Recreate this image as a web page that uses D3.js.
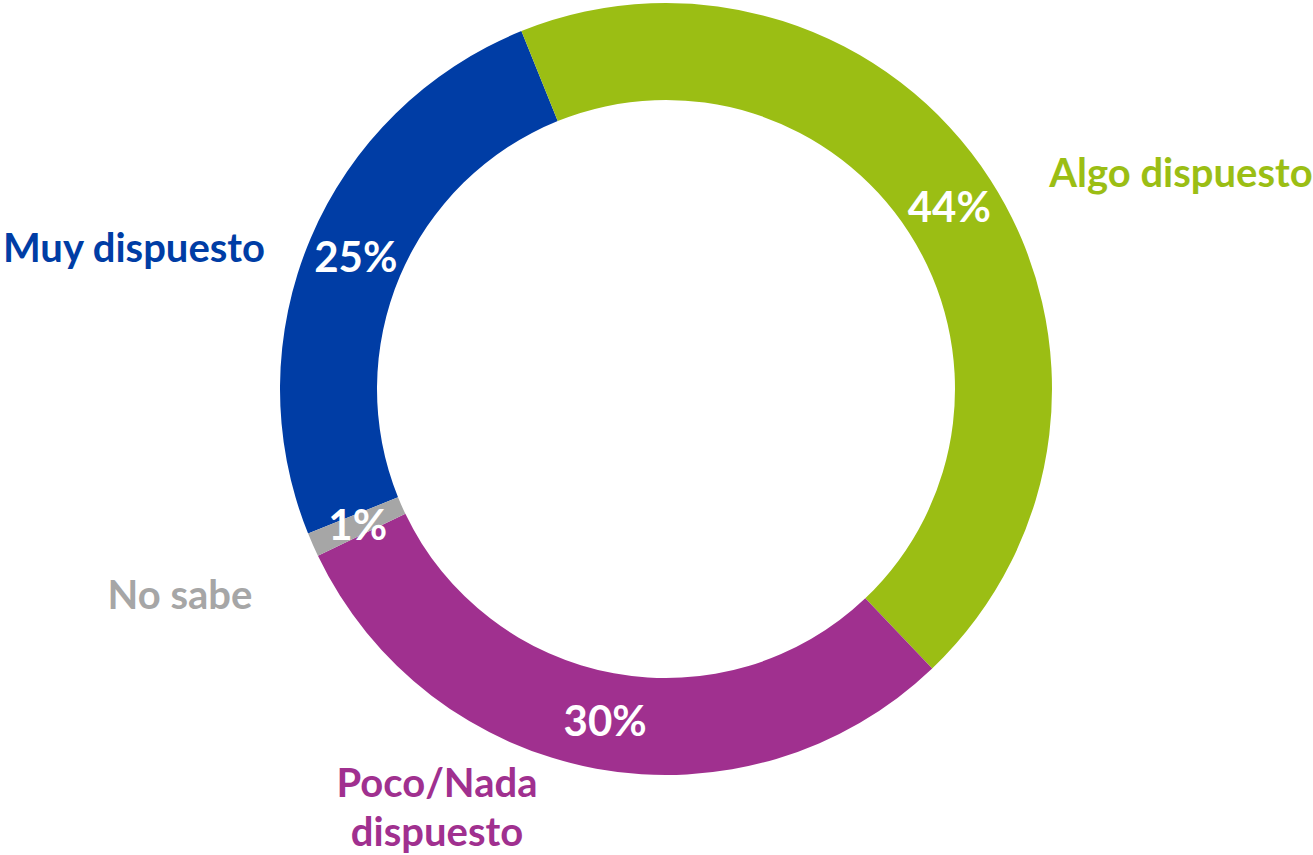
<!DOCTYPE html>
<html>
<head>
<meta charset="utf-8">
<script src="https://cdn.jsdelivr.net/npm/d3@7"></script>
<style>
  body { margin: 0; background: #fff; }
  text { font-family: Lato, "Open Sans", sans-serif; font-weight: bold; }
</style>
</head>
<body>
<script>
// datos del grafico
var categorias = ["Muy dispuesto", "Algo dispuesto", "Poco/Nada dispuesto", "No sabe"]
var valores = [25, 44, 30, 1]
var colores = ["#003DA5", "#9BBE14", "#A0308F", "#A6A6A6"]

var width = 1313
var height = 855
var cx = 666, cy = 389
var rExt = 386, rInt = 289

// posicion de las etiquetas exteriores (centro del texto, linea base)
var posEtiquetas = [
    { x: 134, y: 262, lineas: ["Muy dispuesto"] },
    { x: 1181, y: 187, lineas: ["Algo dispuesto"] },
    { x: 437, y: 797, lineas: ["Poco/Nada", "dispuesto"] },
    { x: 180, y: 609, lineas: ["No sabe"] }
]

var datos = categorias.map((c, i) => ({ cat: c, valor: valores[i], color: colores[i] }))

var inicio = -112 * Math.PI / 180
var pie = d3.pie()
    .sort(null)
    .value(d => d.valor)
    .startAngle(inicio)
    .endAngle(inicio + 2 * Math.PI)

var arco = d3.arc().innerRadius(rInt).outerRadius(rExt)
var arcoTexto = d3.arc().innerRadius(337).outerRadius(337)

var svg = d3.select("body")
    .append("svg")
    .attr("width", width)
    .attr("height", height)

var g = svg.append("g")
    .attr("transform", "translate(" + cx + "," + cy + ")")

var arcos = pie(datos)

g.selectAll("path")
    .data(arcos)
    .enter()
    .append("path")
    .attr("d", arco)
    .attr("fill", d => d.data.color)

// porcentajes dentro del anillo
g.selectAll(".pct")
    .data(arcos)
    .enter()
    .append("text")
    .attr("class", "pct")
    .attr("x", d => arcoTexto.centroid(d)[0])
    .attr("y", d => arcoTexto.centroid(d)[1])
    .attr("dy", "0.36em")
    .attr("text-anchor", "middle")
    .attr("fill", "#fff")
    .style("font-size", "42px")
    .text(d => d.data.valor + "%")

// etiquetas de categoria
var etq = svg.selectAll(".cat")
    .data(datos)
    .enter()
    .append("text")
    .attr("class", "cat")
    .attr("text-anchor", "middle")
    .attr("fill", d => d.color)
    .style("font-size", "40px")

etq.each(function(d, i) {
    var p = posEtiquetas[i]
    d3.select(this).selectAll("tspan")
        .data(p.lineas)
        .enter()
        .append("tspan")
        .attr("x", p.x)
        .attr("y", (l, j) => p.y + j * 49)
        .text(l => l)
})
</script>
</body>
</html>
